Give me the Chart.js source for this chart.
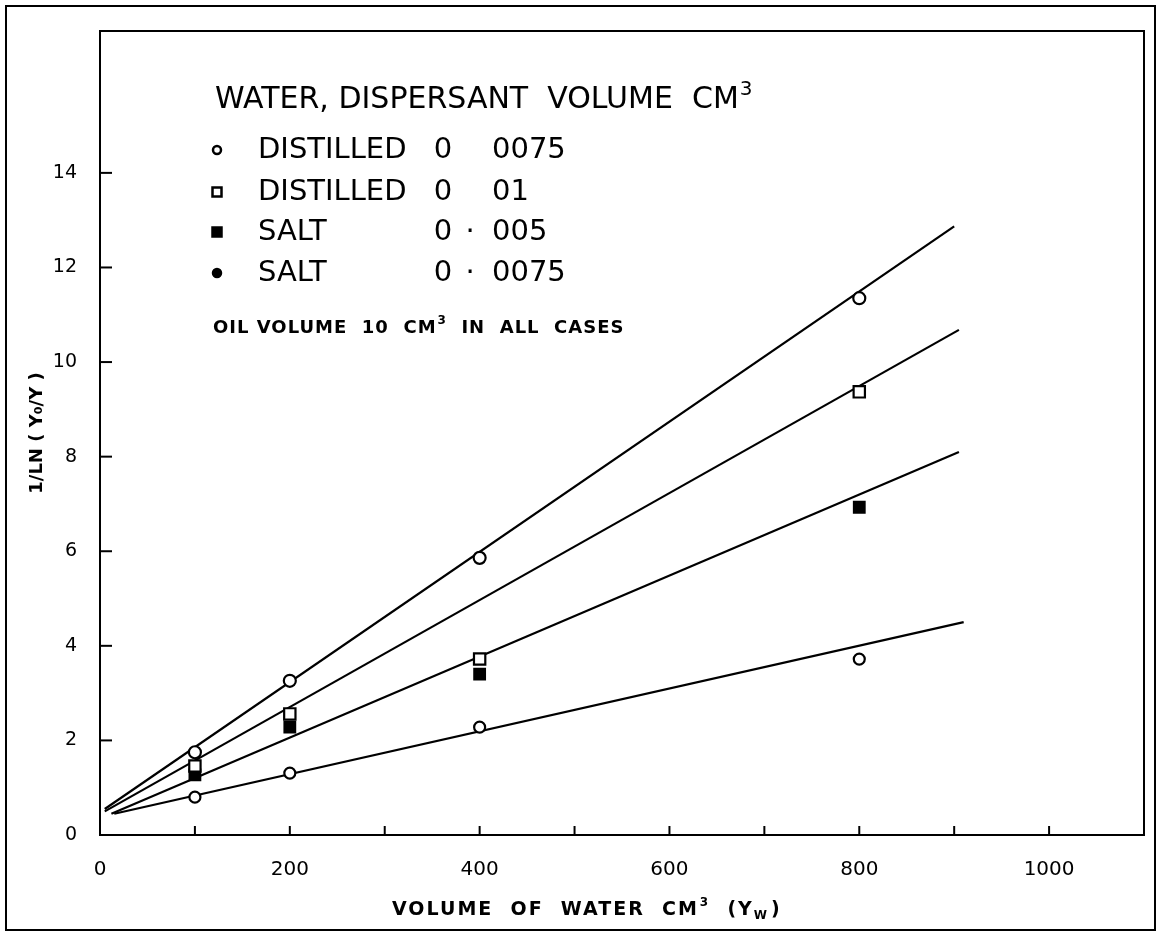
<!DOCTYPE html>
<html>
<head>
<meta charset="utf-8">
<script src="https://cdn.jsdelivr.net/npm/chart.js@4.4.1/dist/chart.umd.min.js"></script>
<style>
  html, body { margin: 0; padding: 0; background: #fff; }
  #wrap { position: relative; width: 1159px; height: 935px; }
  #frame { position: absolute; left: 5px; top: 5px; width: 1147px; height: 922px; border: 2px solid #000; pointer-events: none; }
</style>
</head>
<body>
<div id="wrap">
  <canvas id="chart"></canvas>
  <div id="frame"></div>
</div>
<script>
// water volume (cm3) of the measured points
const waterVolume = [100, 200, 400, 800];

// 1/ln(Y0/Y)
const distilled0075 = [1.75, 3.26, 5.86, 11.35];
const distilled01 = [1.46, 2.56, 3.72, 9.37];
const salt005 = [1.27, 2.28, 3.40, 6.93];
const salt0075 = [0.80, 1.31, 2.28, 3.72];

// hand fitted straight lines (start and end)
const fitStartX = [5, 5, 12, 15];
const fitStartY = [0.55, 0.50, 0.45, 0.45];
const fitEndX = [900, 905, 905, 910];
const fitEndY = [12.87, 10.68, 8.10, 4.50];

// legend table
const legendWater = ['DISTILLED', 'DISTILLED', 'SALT', 'SALT'];
const legendDispersant = ['0075', '01', '005', '0075'];
const legendDot = ['', '', '·', '·'];

const xTickLabels = [0, 200, 400, 600, 800, 1000];
const yTickLabels = [0, 2, 4, 6, 8, 10, 12, 14];

function pts(ys) {
  return waterVolume.map((v, i) => ({ x: v, y: ys[i] }));
}

const markerSets = [
  { data: pts(distilled0075), pointStyle: 'circle', pointRadius: 6, pointBackgroundColor: '#fff' },
  { data: pts(distilled01), pointStyle: 'rect', pointRadius: 8, pointBackgroundColor: '#fff' },
  { data: pts(salt005), pointStyle: 'rect', pointRadius: 7.5, pointBackgroundColor: '#000' },
  { data: pts(salt0075), pointStyle: 'circle', pointRadius: 5.5, pointBackgroundColor: '#fff' }
].map(d => Object.assign(d, {
  showLine: false,
  pointBorderColor: '#000',
  pointBorderWidth: 2.2,
  pointHoverRadius: d.pointRadius
}));

const lineSets = fitStartX.map((x0, i) => ({
  data: [{ x: x0, y: fitStartY[i] }, { x: fitEndX[i], y: fitEndY[i] }],
  showLine: true,
  borderColor: '#000',
  borderWidth: 2.2,
  pointRadius: 0,
  pointHoverRadius: 0
}));

function supText(ctx, base, sup, x, y, font, supFont, rise) {
  ctx.font = font;
  ctx.fillText(base, x, y);
  const w = ctx.measureText(base).width;
  ctx.font = supFont;
  ctx.fillText(sup, x + w + 1, y - rise);
  return x + w + 1 + ctx.measureText(sup).width;
}

const paperDecor = {
  id: 'paperDecor',
  afterDraw(chart) {
    const { ctx, chartArea: a, scales: { x, y } } = chart;
    ctx.save();
    ctx.strokeStyle = '#000';
    ctx.fillStyle = '#000';
    ctx.lineWidth = 2;
    ctx.strokeRect(a.left, a.top, a.right - a.left, a.bottom - a.top);

    // tick marks on the inside
    x.ticks.forEach(t => {
      if (t.value > 0 && t.value <= 1000) {
        const px = x.getPixelForValue(t.value);
        ctx.beginPath();
        ctx.moveTo(px, a.bottom);
        ctx.lineTo(px, a.bottom - 9);
        ctx.stroke();
      }
    });
    y.ticks.forEach(t => {
      if (t.value > 0 && t.value <= 14) {
        const py = y.getPixelForValue(t.value);
        ctx.beginPath();
        ctx.moveTo(a.left, py);
        ctx.lineTo(a.left + 12, py);
        ctx.stroke();
      }
    });

    // x axis title
    ctx.textBaseline = 'middle';
    ctx.textAlign = 'left';
    ctx.letterSpacing = '2px';
    let tx = 392;
    tx = supText(ctx, 'VOLUME  OF  WATER  CM', '3', tx, 910, 'bold 19px "DejaVu Sans"', 'bold 12px "DejaVu Sans"', 7);
    ctx.font = 'bold 19px "DejaVu Sans"';
    ctx.fillText('  (Y', tx, 910);
    tx += ctx.measureText('  (Y').width;
    ctx.font = 'bold 12px "DejaVu Sans"';
    ctx.fillText('W', tx, 916);
    tx += ctx.measureText('W').width + 2;
    ctx.font = 'bold 19px "DejaVu Sans"';
    ctx.fillText(')', tx, 910);
    ctx.letterSpacing = '0px';

    // legend block
    const lx = a.left;
    const ly = a.top;
    supText(ctx, 'WATER, DISPERSANT  VOLUME  CM', '3', lx + 115, ly + 69,
      '30px "DejaVu Sans"', '20px "DejaVu Sans"', 10);
    const rows = [ly + 119, ly + 161, ly + 201, ly + 242];
    rows.forEach((ry, i) => {
      const sx = lx + 117;
      ctx.lineWidth = 2.5;
      ctx.beginPath();
      if (i === 1 || i === 2) {
        ctx.rect(sx - 4.5, ry - 4.5, 9, 9);
        if (i === 2) ctx.fill();
        ctx.stroke();
      } else {
        ctx.arc(sx, ry, 4, 0, Math.PI * 2);
        if (i === 3) ctx.fill();
        ctx.stroke();
      }
      ctx.font = '29px "DejaVu Sans"';
      ctx.textAlign = 'left';
      ctx.fillText(legendWater[i], lx + 158, ry);
      ctx.textAlign = 'center';
      ctx.fillText('0', lx + 343, ry);
      ctx.fillText(legendDot[i], lx + 370, ry);
      ctx.textAlign = 'left';
      ctx.fillText(legendDispersant[i], lx + 392, ry);
    });
    ctx.textAlign = 'left';
    ctx.letterSpacing = '1px';
    let nx = supText(ctx, 'OIL VOLUME  10  CM', '3', lx + 113, ly + 297,
      'bold 18px "DejaVu Sans"', 'bold 12px "DejaVu Sans"', 7);
    ctx.font = 'bold 18px "DejaVu Sans"';
    ctx.fillText('  IN  ALL  CASES', nx, ly + 297);
    ctx.restore();
  }
};

new Chart(document.getElementById('chart'), {
  type: 'scatter',
  data: { datasets: markerSets.concat(lineSets) },
  options: {
    responsive: true,
    maintainAspectRatio: false,
    animation: false,
    layout: { padding: { top: 31, right: 11, left: 0, bottom: 0 } },
    plugins: {
      legend: { display: false },
      tooltip: { enabled: false }
    },
    scales: {
      x: {
        type: 'linear',
        min: 0,
        max: 1100,
        afterFit(scale) { scale.height = 100; },
        grid: { display: false },
        border: { display: false },
        ticks: {
          stepSize: 100,
          padding: 15,
          color: '#000',
          font: { family: 'DejaVu Sans', size: 20 },
          maxRotation: 0,
          autoSkip: false,
          callback: v => xTickLabels.includes(v) ? String(v) : ''
        }
      },
      y: {
        type: 'linear',
        min: 0,
        max: 17,
        afterFit(scale) { scale.width = 100; },
        grid: { display: false },
        border: { display: false },
        title: {
          display: true,
          text: '1/LN ( Y₀/Y )',
          color: '#000',
          font: { family: 'DejaVu Sans', size: 18, weight: 'bold' },
          padding: { top: 27 }
        },
        ticks: {
          stepSize: 2,
          padding: 15,
          color: '#000',
          font: { family: 'DejaVu Sans', size: 19 },
          autoSkip: false,
          callback: v => yTickLabels.includes(v) ? String(v) : ''
        }
      }
    }
  },
  plugins: [paperDecor]
});
</script>
</body>
</html>
